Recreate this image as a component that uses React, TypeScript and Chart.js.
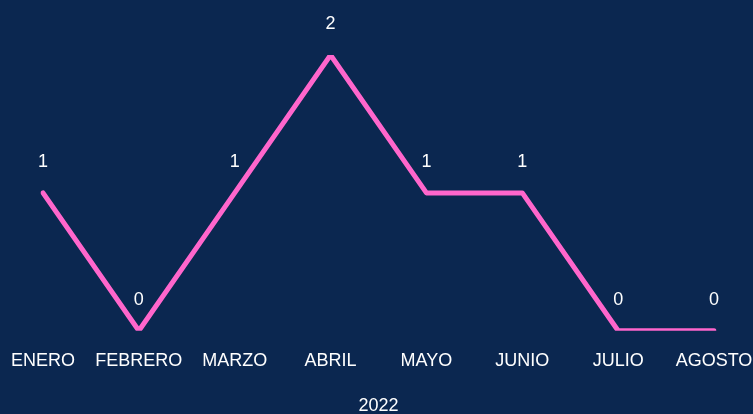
import React, { useEffect, useRef } from "react";
import { Chart, registerables } from "chart.js";

Chart.register(...registerables);

const months = ["ENERO", "FEBRERO", "MARZO", "ABRIL", "MAYO", "JUNIO", "JULIO", "AGOSTO"];
const counts = [1, 0, 1, 2, 1, 1, 0, 0];
const axisTitle = "2022";

const BG = "#0B2750";
const LINE = "#FF66CC";
const FONT = "'Liberation Sans', Arial, sans-serif";

const labelPlugin = {
  id: "pointLabels",
  afterDatasetsDraw(chart: any) {
    const ctx = chart.ctx;
    const meta = chart.getDatasetMeta(0);
    ctx.save();
    ctx.fillStyle = "#FFFFFF";
    ctx.font = `18px ${FONT}`;
    ctx.textAlign = "center";
    ctx.textBaseline = "middle";
    meta.data.forEach((pt: any, i: number) => {
      ctx.fillText(String(counts[i]), pt.x, pt.y - 31);
    });
    ctx.restore();
  },
};

const bgPlugin = {
  id: "bg",
  beforeDraw(chart: any) {
    const ctx = chart.ctx;
    ctx.save();
    ctx.fillStyle = BG;
    ctx.fillRect(0, 0, chart.width, chart.height);
    ctx.restore();
  },
};

export default function App() {
  const ref = useRef<HTMLCanvasElement>(null);
  useEffect(() => {
    document.body.style.margin = "0";
    document.body.style.background = BG;
    const chart = new Chart(ref.current!, {
      type: "line",
      data: {
        labels: months,
        datasets: [
          {
            data: counts,
            borderColor: LINE,
            borderWidth: 5,
            pointRadius: 0,
            tension: 0,
            borderCapStyle: "round",
            borderJoinStyle: "round",
          },
        ],
      },
      options: {
        responsive: false,
        animation: false,
        layout: { padding: { top: 55, left: 43, right: 39, bottom: 0 } },
        plugins: { legend: { display: false }, tooltip: { enabled: false } },
        scales: {
          x: {
            offset: false,
            border: { display: false },
            grid: { display: false, drawTicks: false },
            ticks: { color: "#FFFFFF", font: { family: FONT, size: 18 }, padding: 19, maxRotation: 0, autoSkip: false },
            title: { display: true, text: axisTitle, color: "#FFFFFF", font: { family: FONT, size: 18 }, padding: { top: 5, bottom: -3 } },
            afterFit(scale: any) {
              scale.paddingLeft = 0;
              scale.paddingRight = 0;
            },
          },
          y: { display: false, min: 0, max: 2 },
        },
      },
      plugins: [bgPlugin, labelPlugin],
    });
    return () => chart.destroy();
  }, []);
  return <canvas ref={ref} width={753} height={414} style={{ display: "block" }} />;
}
